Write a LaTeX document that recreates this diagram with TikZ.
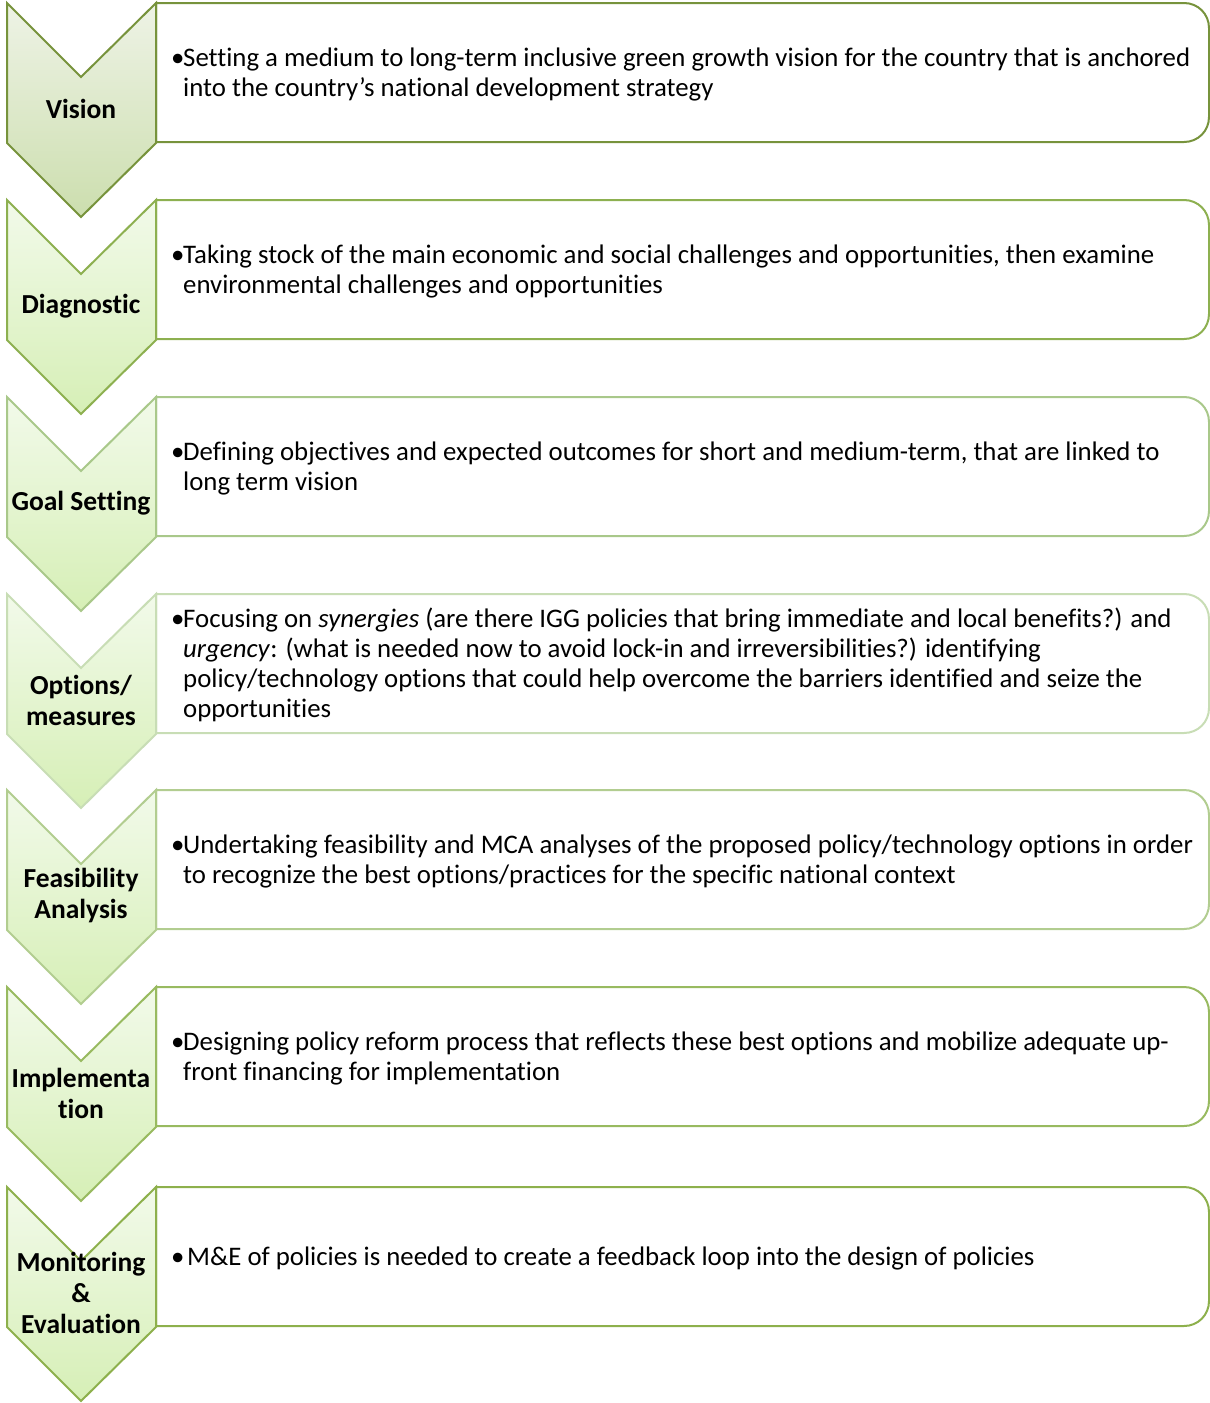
\documentclass[tikz,border=0pt]{standalone}
\usepackage{fontspec}
\setmainfont{Carlito}[Ligatures={NoCommon}]
\definecolor{b1}{HTML}{77933C}
\definecolor{b2}{HTML}{8DB050}
\definecolor{b3}{HTML}{A9C88A}
\definecolor{b4}{HTML}{C8DDB5}
\definecolor{b5}{HTML}{B2CD90}
\definecolor{b6}{HTML}{98BA60}
\definecolor{b7}{HTML}{8DB04C}
\definecolor{t1}{HTML}{EEF3E6}
\definecolor{u1}{HTML}{CCDEAE}
\definecolor{t2}{HTML}{F2FAEA}
\definecolor{u2}{HTML}{D6EFB6}
\tikzset{
  lab/.style={align=center,inner sep=0pt,font=\fontsize{27.5}{31}\selectfont\bfseries},
  txt/.style={anchor=west,inner sep=0pt,font=\fontsize{26.8}{30}\selectfont},
  bord/.style={line width=2pt}
}
\newcommand\flowrow[7]{%
  \draw[bord,draw=#3,fill=white] (156,#2) -- (1184,#2)
     .. controls (1198,#2) and (1209,#2+11) .. (1209,#2+25)
     -- (1209,#2+114)
     .. controls (1209,#2+128) and (1198,#2+139) .. (1184,#2+139)
     -- (156,#2+139) -- cycle;
  \shade[bord,draw=#3,top color=#4,bottom color=#5]
     (7,#2) -- (81,#2+74) -- (156,#2) -- (156,#2+140) -- (81,#2+214) -- (7,#2+140) -- cycle;
  \node[lab] (#1-lab) at (81,#2+106) {#6};
  \node[txt] (#1-txt) at (171,#2+72) {#7};
}
\newcommand\bl{\makebox[12pt][l]{\textbullet}}
\begin{document}
\begin{tikzpicture}[x=1pt,y=-1pt]
\useasboundingbox (0,0) rectangle (1210,1403);
\flowrow{vis}{3}{b1}{t1}{u1}{Vision}{\begin{tabular}{@{}l@{}l@{}}\bl&Setting a medium to long-term inclusive green growth vision for the country that is anchored\\&into the country’s national development strategy\end{tabular}}
\flowrow{dia}{200}{b2}{t2}{u2}{Diagnostic}{\begin{tabular}{@{}l@{}l@{}}\bl&Taking stock of the main economic and social challenges and opportunities, then examine\\&environmental challenges and opportunities\end{tabular}}
\flowrow{goal}{397}{b3}{t2}{u2}{Goal Setting}{\begin{tabular}{@{}l@{}l@{}}\bl&Defining objectives and expected outcomes for short and medium-term, that are linked to\\&long term vision\end{tabular}}
\flowrow{opt}{594}{b4}{t2}{u2}{Options/\\measures}{\begin{tabular}{@{}l@{}l@{}}\bl&Focusing on \textit{synergies} (are there IGG policies that bring immediate and local benefits?) and\\&\textit{urgency}: (what is needed now to avoid lock-in and irreversibilities?) identifying\\&policy/technology options that could help overcome the barriers identified and seize the\\&opportunities\end{tabular}}
\flowrow{fea}{790}{b5}{t2}{u2}{Feasibility\\Analysis}{\begin{tabular}{@{}l@{}l@{}}\bl&Undertaking feasibility and MCA analyses of the proposed policy/technology options in order\\&to recognize the best options/practices for the specific national context\end{tabular}}
\flowrow{imp}{987}{b6}{t2}{u2}{Implementa\\tion}{\begin{tabular}{@{}l@{}l@{}}\bl&Designing policy reform process that reflects these best options and mobilize adequate up-\\&front financing for implementation\end{tabular}}
\flowrow{mon}{1187}{b7}{t2}{u2}{Monitoring\\\&\\Evaluation}{\begin{tabular}{@{}l@{}l@{}}\makebox[16pt][l]{\textbullet}&M\&E of policies is needed to create a feedback loop into the design of policies\end{tabular}}
\end{tikzpicture}
\end{document}
